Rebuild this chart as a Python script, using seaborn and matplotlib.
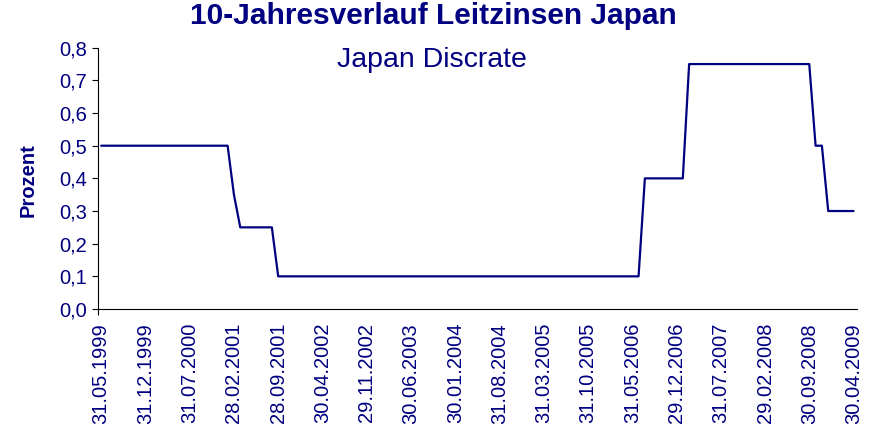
import numpy as np
import pandas as pd
import matplotlib
matplotlib.use("Agg")
import matplotlib.pyplot as plt
from matplotlib.ticker import FuncFormatter, FixedLocator
import seaborn as sns

# Month-end discount rate of the Bank of Japan, 31.05.1999 - 30.04.2009 (in %)
rate = [
    0.5, 0.5, 0.5, 0.5, 0.5, 0.5, 0.5, 0.5, 0.5, 0.5, 0.5, 0.5,   # 1999-06 .. 2000-05
    0.5, 0.5, 0.5, 0.5, 0.5, 0.5, 0.5, 0.5, 0.5,                  # .. 2001-01
    0.35,                                                          # 2001-02
    0.25, 0.25, 0.25, 0.25, 0.25, 0.25,                            # 2001-03 .. 2001-08
    0.1, 0.1, 0.1, 0.1, 0.1, 0.1, 0.1, 0.1, 0.1, 0.1,
    0.1, 0.1, 0.1, 0.1, 0.1, 0.1, 0.1, 0.1, 0.1, 0.1,
    0.1, 0.1, 0.1, 0.1, 0.1, 0.1, 0.1, 0.1, 0.1, 0.1,
    0.1, 0.1, 0.1, 0.1, 0.1, 0.1, 0.1, 0.1, 0.1, 0.1,
    0.1, 0.1, 0.1, 0.1, 0.1, 0.1, 0.1, 0.1, 0.1, 0.1,
    0.1, 0.1, 0.1, 0.1, 0.1, 0.1, 0.1, 0.1,                        # 2001-09 .. 2006-06
    0.4, 0.4, 0.4, 0.4, 0.4, 0.4, 0.4,                             # 2006-07 .. 2007-01
    0.75, 0.75, 0.75, 0.75, 0.75, 0.75, 0.75, 0.75, 0.75, 0.75,
    0.75, 0.75, 0.75, 0.75, 0.75, 0.75, 0.75, 0.75, 0.75, 0.75,    # 2007-02 .. 2008-09
    0.5, 0.5,                                                      # 2008-10 .. 2008-11
    0.3, 0.3, 0.3, 0.3, 0.3,                                       # 2008-12 .. 2009-04
]

# Every seventh month is labelled on the category axis
tick_labels = [
    "31.05.1999", "31.12.1999", "31.07.2000", "28.02.2001", "28.09.2001",
    "30.04.2002", "29.11.2002", "30.06.2003", "30.01.2004", "31.08.2004",
    "31.03.2005", "31.10.2005", "31.05.2006", "29.12.2006", "31.07.2007",
    "29.02.2008", "30.09.2008", "30.04.2009",
]
label_step = 7

y_ticks = [0.0, 0.1, 0.2, 0.3, 0.4, 0.5, 0.6, 0.7, 0.8]

title = "10-Jahresverlauf Leitzinsen Japan"
subtitle = "Japan Discrate"
y_label = "Prozent"

navy = "#000080"

df = pd.DataFrame({"monat": np.arange(len(rate)), "zins": rate})

sns.set_theme(style="white")
plt.rcParams["font.family"] = ["Liberation Sans", "DejaVu Sans"]

fig = plt.figure(figsize=(8.79, 4.30), dpi=100)
ax = fig.add_axes([0.1115, 0.2814, 0.9746 - 0.1115, 0.889 - 0.2814])

sns.lineplot(data=df, x="monat", y="zins", ax=ax, color=navy, linewidth=1.6)

ax.set_xlim(-0.5, len(rate) - 0.5)
ax.set_ylim(0.0, 0.8)

# y axis
ax.set_yticks(y_ticks)
ax.yaxis.set_major_formatter(FuncFormatter(lambda v, p: f"{v:.1f}".replace(".", ",")))
ax.tick_params(axis="y", which="major", direction="out", length=4.5, width=0.8,
               color="black", pad=3.5, labelsize=14.5, labelcolor=navy, left=True)

# x axis: category labels without marks, one mark at the origin
ax.xaxis.set_major_locator(FixedLocator(np.arange(0, len(rate), label_step)))
ax.set_xticklabels(tick_labels, rotation=90, ha="center", va="top")
ax.tick_params(axis="x", which="major", length=0, pad=10, labelsize=14.5,
               labelcolor=navy, bottom=True)
ax.xaxis.set_minor_locator(FixedLocator([-0.5]))
ax.tick_params(axis="x", which="minor", direction="out", length=4, width=0.8,
               color="black", bottom=True)

ax.set_xlabel("")
ax.set_ylabel("")

for side in ("top", "right"):
    ax.spines[side].set_visible(False)
for side in ("left", "bottom"):
    ax.spines[side].set_color("black")
    ax.spines[side].set_linewidth(0.8)
ax.grid(False)
ax.set_facecolor("white")
fig.patch.set_facecolor("white")

fig.text(28 / 879, 1 - 180 / 430, y_label, rotation=90, ha="center", va="center",
         fontsize=14.5, fontweight="bold", color=navy)
fig.text(433 / 879, 1 - 24 / 430, title, ha="center", va="baseline",
         fontsize=21.5, fontweight="bold", color=navy)
fig.text(432 / 879, 1 - 67 / 430, subtitle, ha="center", va="baseline",
         fontsize=20.5, color=navy)

fig.savefig("out.png", dpi=100, facecolor="white")
